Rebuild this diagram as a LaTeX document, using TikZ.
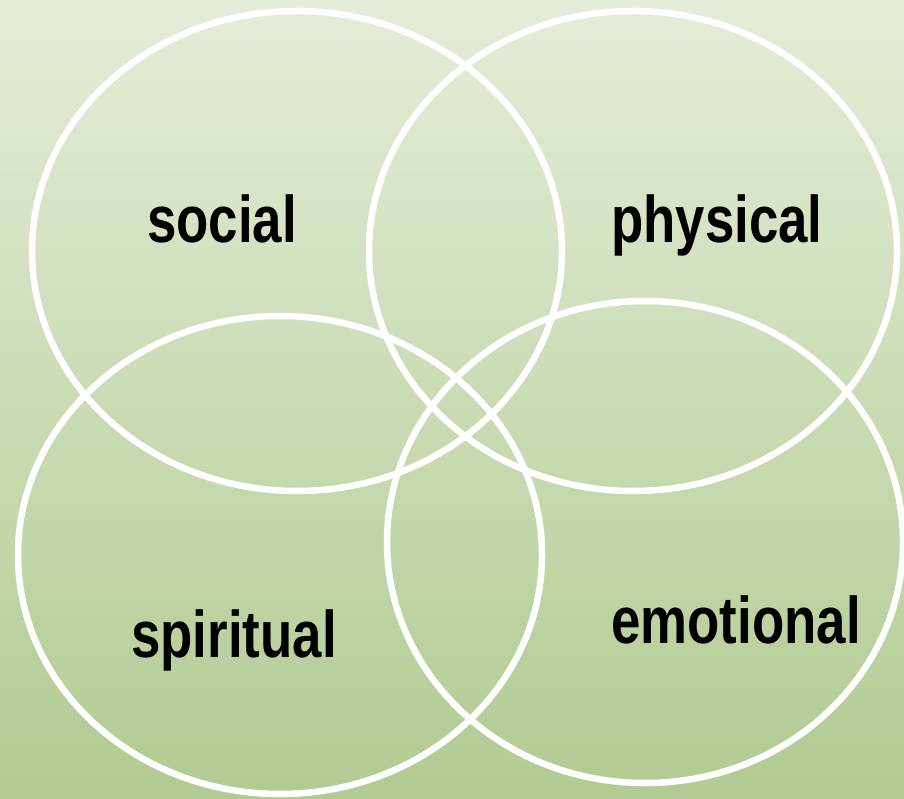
\documentclass[tikz,border=0pt]{standalone}
\usepackage{fontspec}
\usepackage{xcolor}
\usepackage{tikz}
\newfontfamily\lblfont{Liberation Sans}[FakeStretch=0.8]
\definecolor{paletop}{HTML}{E4EDD8}
\definecolor{sagebot}{HTML}{B2CA92}

\begin{document}
\begin{tikzpicture}[
  x=1pt, y=-1pt,
  ring/.style={draw=white, line width=6.5pt},
  lbl/.style={anchor=base, inner sep=0pt, text=black, font=\lblfont\bfseries\fontsize{66}{66}\selectfont}
]
  % backdrop
  \shade[top color=paletop, bottom color=sagebot] (0,0) rectangle (904,799);
  \useasboundingbox (0,0) rectangle (904,799);
  % the four rings
  \draw[ring] (297,251) ellipse [x radius=265, y radius=240];
  \draw[ring] (633,251) ellipse [x radius=264, y radius=240];
  \draw[ring] (280,555) ellipse [x radius=262, y radius=239];
  \draw[ring] (645,542) ellipse [x radius=258, y radius=241];
  % labels
  \node[lbl] (social) at (222,243) {social};
  \node[lbl] (physical) at (717,243) {physical};
  \node[lbl] (spiritual) at (234,657) {spiritual};
  \node[lbl] (emotional) at (736,643) {emotional};
\end{tikzpicture}
\end{document}
